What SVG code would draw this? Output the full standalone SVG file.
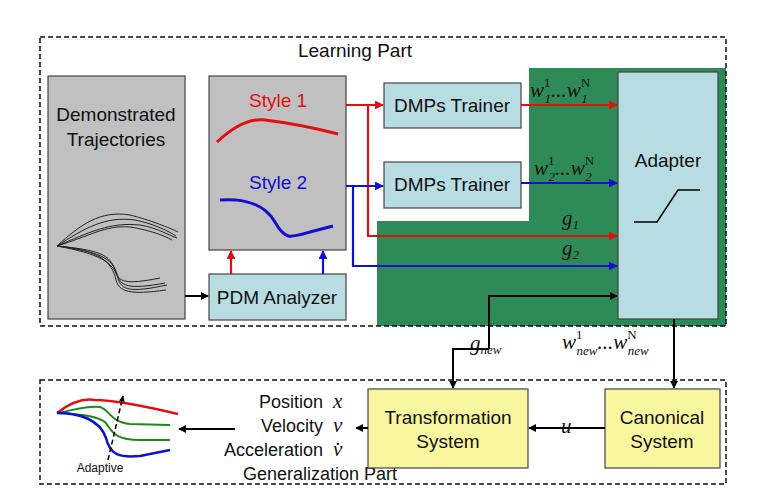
<svg xmlns="http://www.w3.org/2000/svg" width="765" height="500" viewBox="0 0 765 500">
<defs>
<style>
text{font-family:"Liberation Sans",Arial,sans-serif;font-size:19px;fill:#111}
.m{font-family:"Liberation Serif","Times New Roman",serif;font-style:italic;font-size:21px}
.sup{font-size:13px;font-style:normal}
.sub{font-size:13px}
.dash{fill:none;stroke:#111;stroke-width:1.5;stroke-dasharray:5,3}
.gray{fill:#c0c0c0;stroke:#444;stroke-width:1.2}
.blue{fill:#b7dde3;stroke:#444;stroke-width:1.2}
.yel{fill:#f9f6a0;stroke:#444;stroke-width:1.2}
.r{stroke:#e01010;stroke-width:2.2;fill:none}
.b{stroke:#1010d0;stroke-width:2.2;fill:none}
.k{stroke:#000;stroke-width:2;fill:none}
.tr{stroke:#222;stroke-width:1;fill:none}
</style>
<marker id="ar" viewBox="0 0 10 10" refX="9" refY="5" markerWidth="4" markerHeight="4" orient="auto"><path d="M0,0L10,5L0,10z" fill="#e01010"/></marker>
<marker id="ab" viewBox="0 0 10 10" refX="9" refY="5" markerWidth="4" markerHeight="4" orient="auto"><path d="M0,0L10,5L0,10z" fill="#1010d0"/></marker>
<marker id="ak" viewBox="0 0 10 10" refX="9" refY="5" markerWidth="4" markerHeight="4" orient="auto"><path d="M0,0L10,5L0,10z" fill="#000"/></marker>
</defs>
<rect width="765" height="500" fill="#fff"/>
<g id="learning-part">
<path d="M529,68H726V326H377V221H529Z" fill="#2e8b57"/>
<rect class="dash" x="40" y="37" width="686" height="289"/>
<text x="355" y="57" text-anchor="middle">Learning Part</text>
</g>
<g id="generalization-part">
<rect class="dash" x="40" y="380" width="686" height="104"/>
<text x="320" y="480" text-anchor="middle" style="font-size:18px">Generalization Part</text>
</g>
<g id="demonstrated">
<rect class="gray" x="48" y="76" width="137" height="243"/>
<text x="116" y="121" text-anchor="middle">Demonstrated</text>
<text x="116" y="146" text-anchor="middle">Trajectories</text>
<path class="tr" d="M57,246C80,225 100,210 130,215C150,220 170,228 178,232"/>
<path class="tr" d="M57,246C85,228 105,216 135,220C155,224 170,232 176,236"/>
<path class="tr" d="M57,246C90,232 110,222 140,225C158,228 170,236 177,238"/>
<path class="tr" d="M57,246C90,236 105,225 130,227C150,230 165,236 172,240"/>
<path class="tr" d="M57,246C100,250 110,255 115,270C118,282 125,285 160,278"/>
<path class="tr" d="M57,246C100,252 112,258 117,274C120,286 128,290 165,283"/>
<path class="tr" d="M57,246C100,254 113,262 118,278C121,290 130,293 167,285"/>
<path class="tr" d="M57,246C100,250 112,262 116,280C119,292 130,295 166,290"/>
</g>
<g id="styles">
<rect class="gray" x="209" y="76" width="137" height="174"/>
<text x="249" y="107" style="fill:#e01010">Style 1</text>
<path class="r" style="stroke-width:3" d="M217,142C235,125 250,118 265,120C290,123 315,128 338,134"/>
<text x="249" y="189" style="fill:#1010d0">Style 2</text>
<path class="b" style="stroke-width:3" d="M220,200C245,198 265,205 275,222C285,240 290,238 310,232L333,226"/>
</g>
<g id="pdm-analyzer">
<rect class="blue" x="209" y="274" width="137" height="46"/>
<text x="277" y="304" text-anchor="middle">PDM Analyzer</text>
</g>
<g id="dmps-trainer-1">
<rect class="blue" x="384" y="83" width="137" height="45"/>
<text x="452" y="112" text-anchor="middle">DMPs Trainer</text>
</g>
<g id="dmps-trainer-2">
<rect class="blue" x="384" y="162" width="137" height="46"/>
<text x="452" y="191" text-anchor="middle">DMPs Trainer</text>
</g>
<g id="adapter">
<rect class="blue" x="618" y="72" width="100" height="247"/>
<text x="668" y="167" text-anchor="middle">Adapter</text>
<path d="M634,222H657L678,190H700" stroke="#000" stroke-width="1.5" fill="none"/>
</g>
<g id="transformation-system">
<rect class="yel" x="368" y="389" width="160" height="79"/>
<text x="448" y="424" text-anchor="middle">Transformation</text>
<text x="448" y="448" text-anchor="middle">System</text>
</g>
<g id="canonical-system">
<rect class="yel" x="605" y="389" width="115" height="79"/>
<text x="662" y="424" text-anchor="middle">Canonical</text>
<text x="662" y="448" text-anchor="middle">System</text>
</g>
<g id="output">
<text x="323" y="408" text-anchor="end" style="font-size:18px">Position</text>
<text x="323" y="432" text-anchor="end" style="font-size:18px">Velocity</text>
<text x="323" y="456" text-anchor="end" style="font-size:18px">Acceleration</text>
<text class="m" x="333" y="408">x</text>
<text class="m" x="333" y="432">v</text>
<text class="m" x="333" y="456">v̇</text>
<path class="r" style="stroke-width:2.5" d="M57,413C70,403 82,398 95,400C115,400 140,405 178,414"/>
<path d="M57,413C75,410 88,405 100,407C110,410 110,422 130,424L170,425" stroke="#1a8a1a" stroke-width="2" fill="none"/>
<path d="M57,413C75,414 95,415 105,422C112,430 112,440 140,440L170,440" stroke="#1a8a1a" stroke-width="2" fill="none"/>
<path class="b" style="stroke-width:2.5" d="M57,413C80,413 100,420 106,438C110,455 120,458 140,456L170,450"/>
<path d="M108,460L123,396" stroke="#000" stroke-width="1.5" stroke-dasharray="5,3" fill="none" marker-end="url(#ak)"/>
<text x="100" y="472" text-anchor="middle" style="font-size:12px">Adaptive</text>
</g>
<g id="connectors">
<path class="k" d="M185,296H208" marker-end="url(#ak)"/>
<path class="r" d="M231,274V251" marker-end="url(#ar)"/>
<path class="b" d="M323,274V251" marker-end="url(#ab)"/>
<path class="r" d="M346,105H383" marker-end="url(#ar)"/>
<path class="r" d="M368,105V236H617" marker-end="url(#ar)"/>
<path class="b" d="M346,186H383" marker-end="url(#ab)"/>
<path class="b" d="M353,186V266H617" marker-end="url(#ab)"/>
<path class="r" d="M521,105H617" marker-end="url(#ar)"/>
<path class="b" d="M521,183H617" marker-end="url(#ab)"/>
<path class="k" d="M489,349V296H617" marker-end="url(#ak)"/>
<path class="k" d="M489,349H453V388" marker-end="url(#ak)"/>
<path class="k" d="M674,319V388" marker-end="url(#ak)"/>
<path class="k" d="M605,428H529" marker-end="url(#ak)"/>
<path class="k" d="M368,428H356" marker-end="url(#ak)"/>
<path class="k" d="M235,429H179" marker-end="url(#ak)"/>
<text class="m" x="530" y="97">w<tspan class="sup" dy="-10">1</tspan><tspan class="sub" dx="-6" dy="16">1</tspan><tspan dy="-6">...w</tspan><tspan class="sup" dy="-10">N</tspan><tspan class="sub" dx="-9" dy="16">1</tspan></text>
<text class="m" x="534" y="175">w<tspan class="sup" dy="-10">1</tspan><tspan class="sub" dx="-6" dy="16">2</tspan><tspan dy="-6">...w</tspan><tspan class="sup" dy="-10">N</tspan><tspan class="sub" dx="-9" dy="16">2</tspan></text>
<text class="m" x="562" y="225">g<tspan class="sub" dy="4">1</tspan></text>
<text class="m" x="562" y="255">g<tspan class="sub" dy="4">2</tspan></text>
<text class="m" x="470" y="350">g<tspan class="sub" dy="4">new</tspan></text>
<text class="m" x="562" y="349">w<tspan class="sup" dy="-10">1</tspan><tspan class="sub" dx="-6" dy="16">new</tspan><tspan dy="-6">...w</tspan><tspan class="sup" dy="-10">N</tspan><tspan class="sub" dx="-9" dy="16">new</tspan></text>
<text class="m" x="561" y="433">u</text>
</g>
</svg>
